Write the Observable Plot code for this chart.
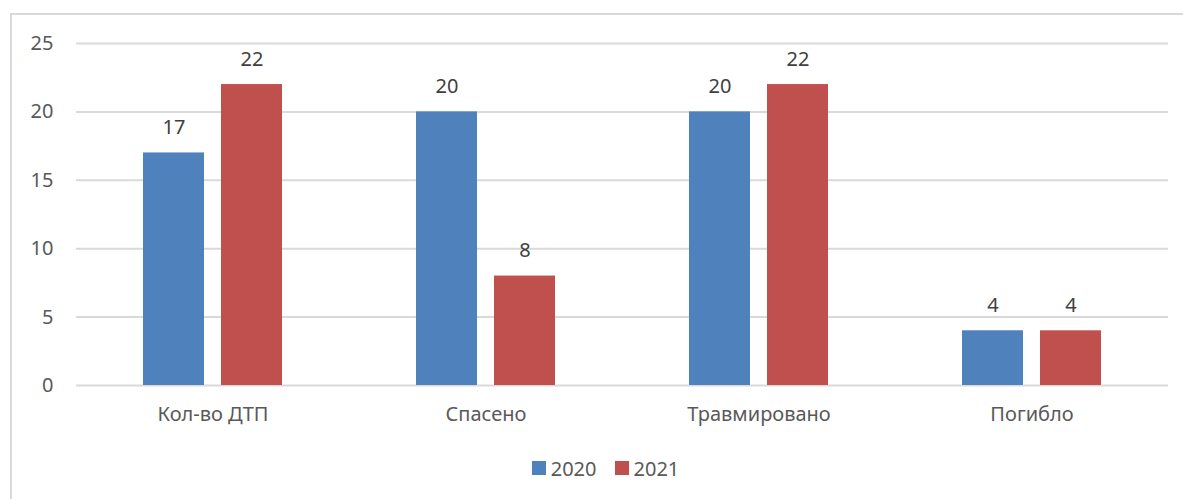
<!DOCTYPE html>
<html>
<head>
<meta charset="utf-8">
<script src="https://cdn.jsdelivr.net/npm/d3@7"></script>
<script src="https://cdn.jsdelivr.net/npm/@observablehq/plot@0.6"></script>
<style>
  html, body { margin: 0; padding: 0; background: #fff; }
  body { width: 1183px; height: 499px; position: relative; overflow: hidden; font-family: "Noto Sans", sans-serif; }
  #frame { position: absolute; left: 10px; top: 13px; width: 1200px; height: 520px; border-top: 2px solid #d9d9d9; border-left: 2px solid #d9d9d9; box-sizing: border-box; }
  #chart { position: absolute; left: 0; top: 0; }
  #chart svg text { font-size: 20px; }
  #legend { position: absolute; left: 0; top: 440px; width: 1183px; height: 56px; display: flex; justify-content: center; align-items: center; font-size: 20px; color: #595959; padding-left: 28px; box-sizing: border-box; }
  .item { display: flex; align-items: center; margin: 0 9px; }
  .sw { width: 14px; height: 14px; margin-right: 5px; }
</style>
</head>
<body>
<div id="frame"></div>
<div id="chart"></div>
<div id="legend"></div>
<script>
const categories = ["Кол-во ДТП", "Спасено", "Травмировано", "Погибло"];
const years = ["2020", "2021"];
const values2020 = [17, 20, 20, 4];
const values2021 = [22, 8, 22, 4];
const colors = ["#4f81bd", "#c0504d"];
const yTicks = [0, 5, 10, 15, 20, 25];

const data = [];
categories.forEach((c, i) => {
  data.push({category: c, year: years[0], value: values2020[i]});
  data.push({category: c, year: years[1], value: values2021[i]});
});

const chart = Plot.plot({
  width: 1183,
  height: 440,
  marginLeft: 75,
  marginRight: 15,
  marginTop: 43,
  marginBottom: 55,
  style: {fontFamily: "Noto Sans, sans-serif", fontSize: "20px", color: "#595959", background: "transparent"},
  fx: {domain: categories, padding: 0, label: null},
  x: {domain: years, paddingInner: 0.218, paddingOuter: 0.859, axis: null},
  y: {domain: [0, 25], label: null},
  color: {domain: years, range: colors},
  marks: [
    Plot.ruleY(yTicks, {stroke: "#d9d9d9", strokeWidth: 2}),
    Plot.barY(data, {fx: "category", x: "year", y: "value", fill: "year"}),
    Plot.text(data, {fx: "category", x: "year", y: "value", text: d => String(d.value), dy: -25, fontSize: 20, fill: "#404040"}),
    Plot.axisY(yTicks, {tickSize: 0, tickPadding: 23, fontSize: 20, fill: "#595959", label: null}),
    Plot.axisFx({anchor: "bottom", tickSize: 0, tickPadding: 21, fontSize: 20, fill: "#595959", label: null})
  ]
});
document.getElementById("chart").appendChild(chart);

const legend = document.getElementById("legend");
years.forEach((y, i) => {
  const it = document.createElement("div");
  it.className = "item";
  const sw = document.createElement("div");
  sw.className = "sw";
  sw.style.background = colors[i];
  const t = document.createElement("span");
  t.textContent = y;
  it.appendChild(sw); it.appendChild(t);
  legend.appendChild(it);
});
</script>
</body>
</html>
